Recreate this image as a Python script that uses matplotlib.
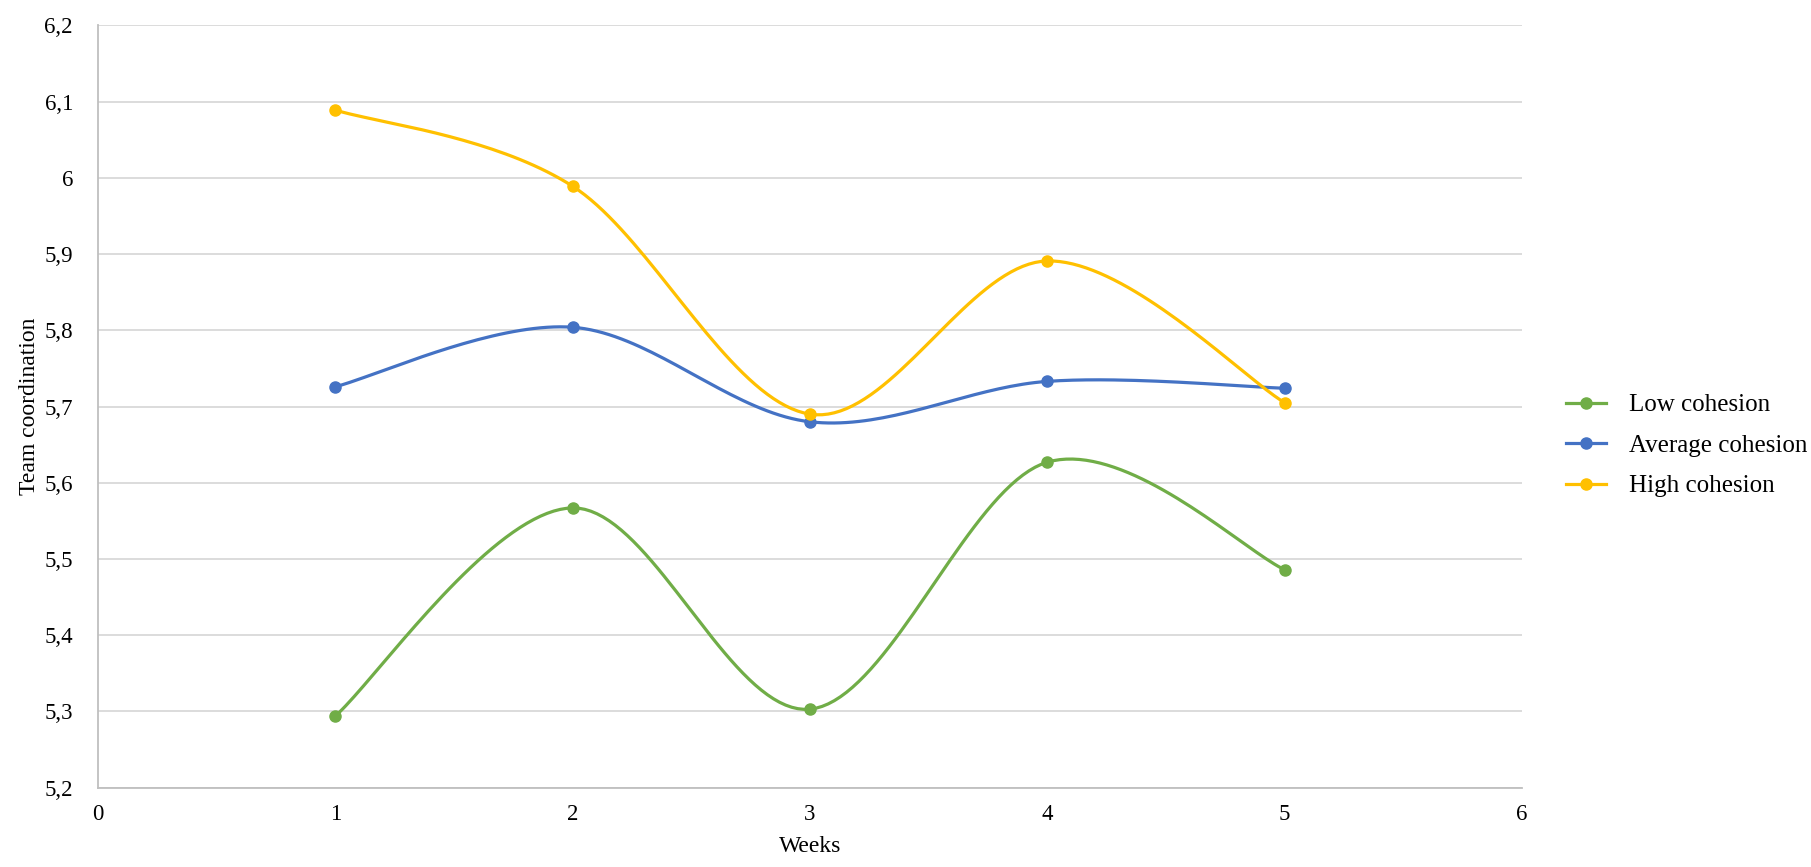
import matplotlib
matplotlib.use("Agg")
import matplotlib.pyplot as plt
import numpy as np
from matplotlib.ticker import FuncFormatter, MultipleLocator

# values
weeks = [1, 2, 3, 4, 5]
low = [5.294, 5.567, 5.303, 5.627, 5.486]
average = [5.726, 5.804, 5.680, 5.733, 5.724]
high = [6.089, 5.989, 5.690, 5.891, 5.705]

series_names = ["Low cohesion", "Average cohesion", "High cohesion"]
series_colors = ["#70AD47", "#4472C4", "#FFC000"]


def smooth(x, y, n=40):
    # Catmull-Rom style bezier, close to Excel's "smoothed line"
    x = np.asarray(x, float)
    y = np.asarray(y, float)
    px = np.concatenate([[x[0]], x, [x[-1]]])
    py = np.concatenate([[y[0]], y, [y[-1]]])
    xs, ys = [], []
    t = np.linspace(0, 1, n)
    for i in range(1, len(px) - 2):
        p0 = np.array([px[i], py[i]])
        p3 = np.array([px[i + 1], py[i + 1]])
        c1 = p0 + (np.array([px[i + 1], py[i + 1]]) - np.array([px[i - 1], py[i - 1]])) / 6
        c2 = p3 - (np.array([px[i + 2], py[i + 2]]) - np.array([px[i], py[i]])) / 6
        b = ((1 - t) ** 3)[:, None] * p0 + (3 * (1 - t) ** 2 * t)[:, None] * c1 \
            + (3 * (1 - t) * t ** 2)[:, None] * c2 + (t ** 3)[:, None] * p3
        xs.extend(b[:, 0])
        ys.extend(b[:, 1])
    return xs, ys


def comma(v, pos):
    s = ("%.1f" % v)
    if s.endswith(".0"):
        s = s[:-2]
    return s.replace(".", ",")


def main():
    plt.rcParams['font.family'] = ['Liberation Serif', 'DejaVu Serif']

    fig = plt.figure(figsize=(18.11, 8.67), dpi=100)
    ax = fig.add_axes([0.0541, 0.0915, 0.7863, 0.8792])

    for vals, name, col in zip([low, average, high], series_names, series_colors):
        sx, sy = smooth(weeks, vals)
        ax.plot(sx, sy, color=col, lw=2.3, zorder=3)
        ax.plot(weeks, vals, 'o', color=col, ms=8, zorder=4)
        ax.plot([], [], '-o', color=col, lw=2.3, ms=8, label=name)

    ax.set_xlim(0, 6)
    ax.set_ylim(5.2, 6.2)
    ax.xaxis.set_major_locator(MultipleLocator(1))
    ax.yaxis.set_major_locator(MultipleLocator(0.1))
    ax.yaxis.set_major_formatter(FuncFormatter(comma))
    ax.xaxis.set_major_formatter(FuncFormatter(comma))
    ax.grid(axis='y', color='#D9D9D9', lw=1.3)
    ax.set_axisbelow(True)
    for s in ['top', 'right']:
        ax.spines[s].set_visible(False)
    for s in ['left', 'bottom']:
        ax.spines[s].set_color('#BFBFBF')
        ax.spines[s].set_linewidth(1.3)
    ax.tick_params(length=0, labelsize=16.5, colors='#000000')
    ax.tick_params(axis='x', pad=12)
    ax.tick_params(axis='y', pad=18)

    ax.set_xlabel('Weeks', fontsize=17, labelpad=8)
    ax.set_ylabel('Team coordination', fontsize=17, labelpad=3)

    fig.legend(loc='center left', bbox_to_anchor=(0.858, 0.486), frameon=False,
               fontsize=18, handlelength=1.6, handletextpad=0.9, labelspacing=0.72,
               borderpad=0)

    fig.savefig('out.png', dpi=100)


if __name__ == '__main__':
    main()
